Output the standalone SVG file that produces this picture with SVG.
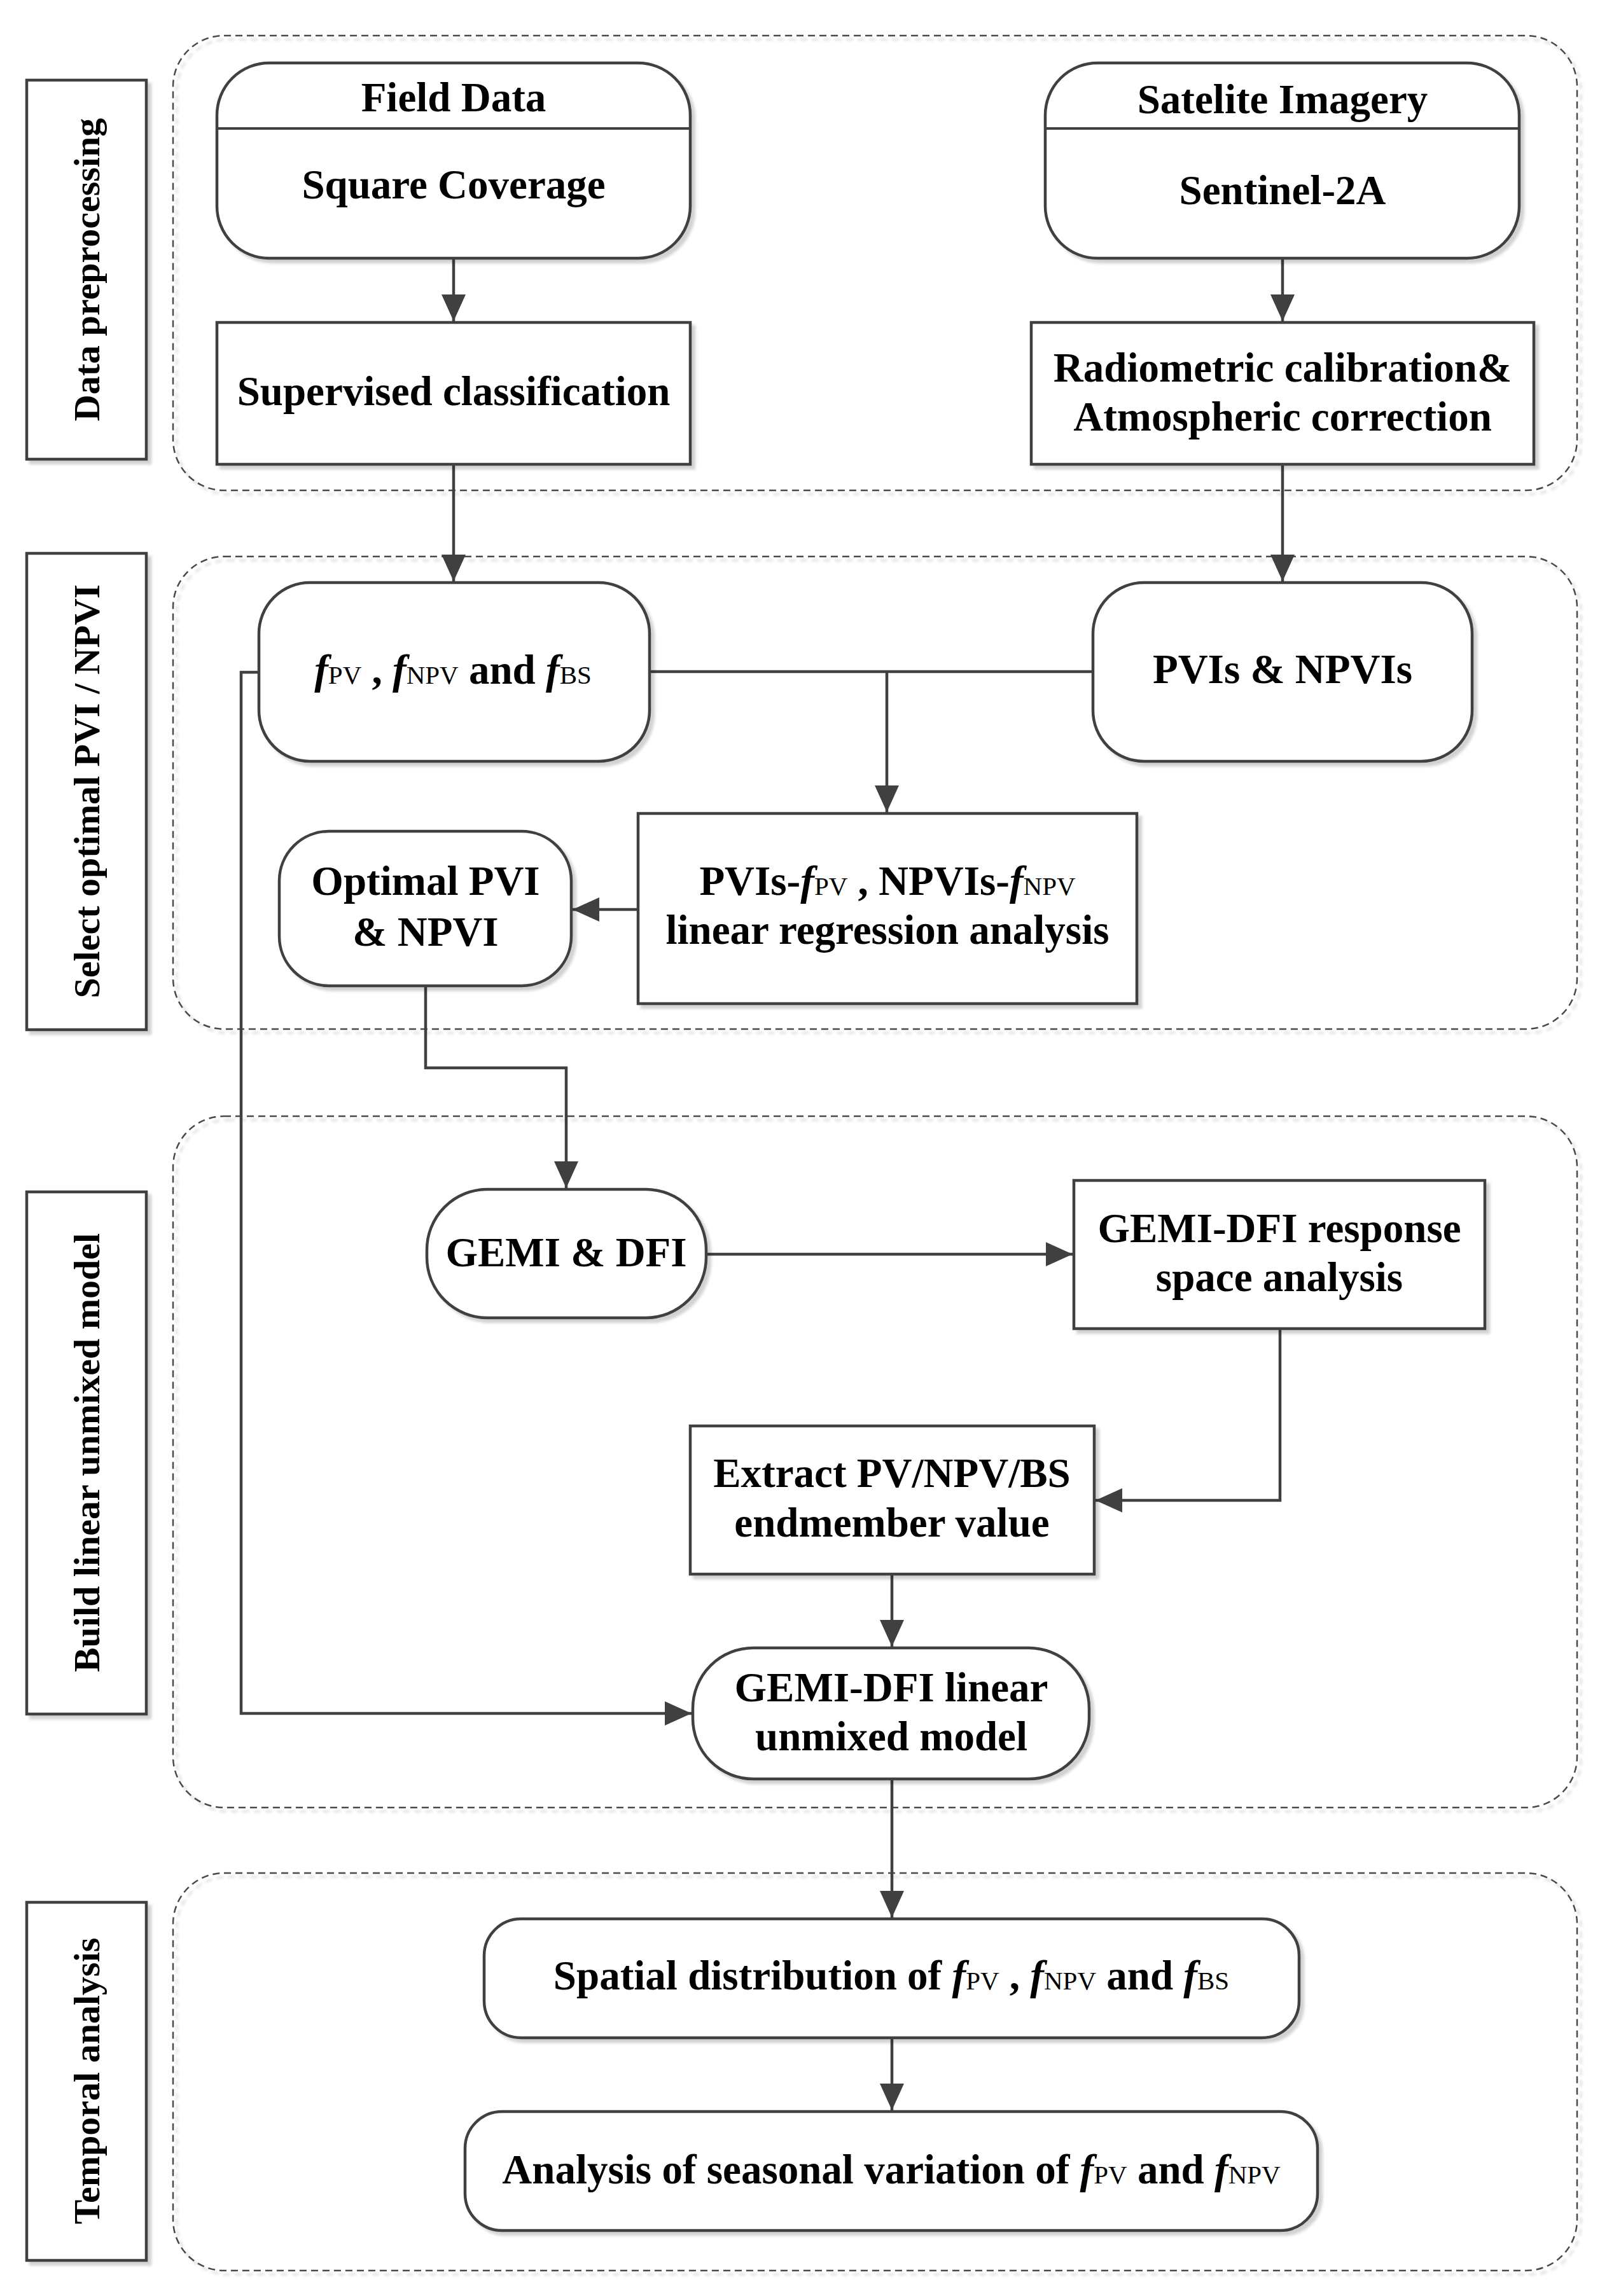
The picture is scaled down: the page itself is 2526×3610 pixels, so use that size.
<svg xmlns="http://www.w3.org/2000/svg" width="2526" height="3610" viewBox="0 0 2526 3610">
<style>
.t{font-family:"Liberation Serif","Times New Roman",serif;font-weight:bold;font-size:65px;fill:#000;text-anchor:middle}
.lab{font-family:"Liberation Serif","Times New Roman",serif;font-weight:bold;font-size:58px;fill:#000;text-anchor:middle}
.i{font-style:italic}
.s{font-size:41px;font-weight:normal}
.node{fill:#fff;stroke:#404040;stroke-width:4.5}
.grp{fill:none;stroke:#4a4a4a;stroke-width:2.5;stroke-dasharray:11 7}
.c{fill:none;stroke:#404040;stroke-width:4.5}
</style>
<defs>
<filter id="sh" x="-5%" y="-5%" width="115%" height="115%">
<feGaussianBlur in="SourceAlpha" stdDeviation="2"/>
<feOffset dx="6" dy="6" result="o"/>
<feComponentTransfer><feFuncA type="linear" slope="0.18"/></feComponentTransfer>
<feMerge><feMergeNode/><feMergeNode in="SourceGraphic"/></feMerge>
</filter>
<marker id="ah" markerUnits="userSpaceOnUse" markerWidth="44" markerHeight="40" refX="42" refY="19" orient="auto">
<path d="M0,0 L42,19 L0,38 z" fill="#404040"/>
</marker>
</defs>
<rect width="2526" height="3610" fill="#fff"/>

<g id="group-preprocessing"><rect class="grp" x="272" y="56" width="2207" height="715" rx="80" filter="url(#sh)"/></g>
<g id="group-select"><rect class="grp" x="272" y="875" width="2207" height="743" rx="80" filter="url(#sh)"/></g>
<g id="group-build"><rect class="grp" x="272" y="1755" width="2207" height="1087" rx="80" filter="url(#sh)"/></g>
<g id="group-temporal"><rect class="grp" x="272" y="2945" width="2207" height="625" rx="80" filter="url(#sh)"/></g>

<g id="label-preprocessing"><rect class="node" x="42" y="126" width="188" height="596" filter="url(#sh)"/><text class="lab" transform="translate(156,424) rotate(-90)">Data preprocessing</text></g>
<g id="label-select"><rect class="node" x="42" y="870" width="188" height="749" filter="url(#sh)"/><text class="lab" transform="translate(156,1244) rotate(-90)">Select optimal PVI / NPVI</text></g>
<g id="label-build"><rect class="node" x="42" y="1874" width="188" height="821" filter="url(#sh)"/><text class="lab" transform="translate(156,2284) rotate(-90)">Build linear unmixed model</text></g>
<g id="label-temporal"><rect class="node" x="42" y="2991" width="188" height="563" filter="url(#sh)"/><text class="lab" transform="translate(156,3272) rotate(-90)">Temporal analysis</text></g>

<g id="connectors">
<path class="c" d="M713,406 V505" marker-end="url(#ah)"/>
<path class="c" d="M2016,406 V505" marker-end="url(#ah)"/>
<path class="c" d="M713,730 V914" marker-end="url(#ah)"/>
<path class="c" d="M2016,730 V914" marker-end="url(#ah)"/>
<path class="c" d="M1021,1056 H1718"/>
<path class="c" d="M1394,1056 V1277" marker-end="url(#ah)"/>
<path class="c" d="M1003,1430 H900" marker-end="url(#ah)"/>
<path class="c" d="M669,1550 V1679 H890 V1868" marker-end="url(#ah)"/>
<path class="c" d="M407,1057 H379 V2694 H1087" marker-end="url(#ah)"/>
<path class="c" d="M1110,1972 H1686" marker-end="url(#ah)"/>
<path class="c" d="M2012,2089 V2359 H1722" marker-end="url(#ah)"/>
<path class="c" d="M1402,2475 V2589" marker-end="url(#ah)"/>
<path class="c" d="M1402,2797 V3015" marker-end="url(#ah)"/>
<path class="c" d="M1402,3204 V3318" marker-end="url(#ah)"/>
</g>

<g id="field-data"><rect class="node" x="341" y="99" width="744" height="307" rx="82" filter="url(#sh)"/><line x1="341" y1="202" x2="1085" y2="202" stroke="#404040" stroke-width="4"/><text class="t" x="713" y="175">Field Data</text><text class="t" x="713" y="312">Square Coverage</text></g>
<g id="satellite-imagery"><rect class="node" x="1643" y="99" width="745" height="307" rx="82" filter="url(#sh)"/><line x1="1643" y1="202" x2="2388" y2="202" stroke="#404040" stroke-width="4"/><text class="t" x="2016" y="178">Satelite Imagery</text><text class="t" x="2016" y="321">Sentinel-2A</text></g>
<g id="supervised"><rect class="node" x="341" y="507" width="744" height="223" filter="url(#sh)"/><text class="t" x="713" y="637">Supervised classification</text></g>
<g id="radiometric"><rect class="node" x="1621" y="507" width="790" height="223" filter="url(#sh)"/><text class="t" x="2016" y="600">Radiometric calibration&amp;</text><text class="t" x="2016" y="677">Atmospheric correction</text></g>
<g id="fractions"><rect class="node" x="407" y="916" width="614" height="281" rx="80" filter="url(#sh)"/><text class="t" x="712" y="1075"><tspan class="i">f</tspan><tspan class="s">PV</tspan> , <tspan class="i">f</tspan><tspan class="s">NPV</tspan> and <tspan class="i">f</tspan><tspan class="s">BS</tspan></text></g>
<g id="pvis-npvis"><rect class="node" x="1718" y="916" width="596" height="281" rx="80" filter="url(#sh)"/><text class="t" x="2016" y="1074">PVIs &amp; NPVIs</text></g>
<g id="regression"><rect class="node" x="1003" y="1279" width="784" height="299" filter="url(#sh)"/><text class="t" x="1395" y="1407">PVIs-<tspan class="i">f</tspan><tspan class="s">PV</tspan> , NPVIs-<tspan class="i">f</tspan><tspan class="s">NPV</tspan></text><text class="t" x="1395" y="1484">linear regression analysis</text></g>
<g id="optimal"><rect class="node" x="439" y="1307" width="459" height="243" rx="78" filter="url(#sh)"/><text class="t" x="669" y="1407">Optimal PVI</text><text class="t" x="669" y="1487">&amp; NPVI</text></g>
<g id="gemi-dfi"><rect class="node" x="671" y="1870" width="439" height="202" rx="95" filter="url(#sh)"/><text class="t" x="890" y="1991">GEMI &amp; DFI</text></g>
<g id="response-space"><rect class="node" x="1688" y="1856" width="646" height="233" filter="url(#sh)"/><text class="t" x="2011" y="1953">GEMI-DFI response</text><text class="t" x="2011" y="2030">space analysis</text></g>
<g id="endmember"><rect class="node" x="1085" y="2242" width="635" height="233" filter="url(#sh)"/><text class="t" x="1402" y="2338">Extract PV/NPV/BS</text><text class="t" x="1402" y="2416">endmember value</text></g>
<g id="linear-model"><rect class="node" x="1089" y="2591" width="623" height="206" rx="95" filter="url(#sh)"/><text class="t" x="1401" y="2675">GEMI-DFI linear</text><text class="t" x="1401" y="2752">unmixed model</text></g>
<g id="spatial"><rect class="node" x="761" y="3017" width="1281" height="187" rx="58" filter="url(#sh)"/><text class="t" x="1401" y="3128">Spatial distribution of <tspan class="i">f</tspan><tspan class="s">PV</tspan> , <tspan class="i">f</tspan><tspan class="s">NPV</tspan> and <tspan class="i">f</tspan><tspan class="s">BS</tspan></text></g>
<g id="seasonal"><rect class="node" x="731" y="3320" width="1340" height="187" rx="58" filter="url(#sh)"/><text class="t" x="1401" y="3433">Analysis of seasonal variation of <tspan class="i">f</tspan><tspan class="s">PV</tspan> and <tspan class="i">f</tspan><tspan class="s">NPV</tspan></text></g>
</svg>
